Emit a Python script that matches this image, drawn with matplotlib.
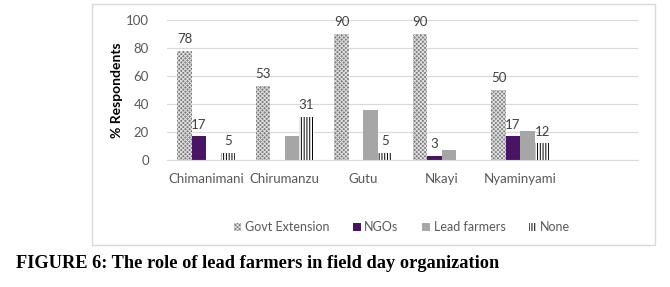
import numpy as np
import matplotlib
matplotlib.use("Agg")
import matplotlib.pyplot as plt
from matplotlib.patches import Rectangle

# Data
districts = ["Chimanimani", "Chirumanzu", "Gutu", "Nkayi", "Nyaminyami"]
govt = [78, 53, 90, 90, 50]
ngos = [17, 0, 0, 3, 17]
lead = [0, 17, 36, 7, 21]
none = [5, 31, 5, 0, 12]
series_names = ["Govt Extension", "NGOs", "Lead farmers", "None"]

plt.rcParams["font.family"] = ["Lato", "DejaVu Sans"]
plt.rcParams["hatch.linewidth"] = 0.7

fig = plt.figure(figsize=(6.7, 2.87), dpi=100)
ax = fig.add_axes([0.2493, 0.4425, 0.7030, 0.4878])

# outer chart frame
fig.patches.append(Rectangle((0.1373, 0.1463), 0.8403, 0.8397, transform=fig.transFigure,
                             fill=False, edgecolor="#d9d9d9", linewidth=1.0))

x = np.arange(len(districts))
w = 0.185
offsets = np.array([-1.5, -0.5, 0.5, 1.5]) * w

b_govt = ax.bar(x + offsets[0], govt, w, facecolor="#7f7f7f", edgecolor="#e0e0e0",
                hatch="xxxxxxxx", linewidth=0, label=series_names[0])
b_ngo = ax.bar(x + offsets[1], ngos, w, color="#4a1466", linewidth=0, label=series_names[1])
b_lead = ax.bar(x + offsets[2], lead, w, color="#a6a6a6", linewidth=0, label=series_names[2])
b_none = ax.bar(x + offsets[3], none, w, facecolor="white", edgecolor="black",
                hatch="||||||", linewidth=0, label=series_names[3])

lab_kw = dict(fontsize=9.5, color="#404040", padding=4)
ax.bar_label(b_govt, labels=[str(v) for v in govt], **lab_kw)
ax.bar_label(b_ngo, labels=[str(v) if v else "" for v in ngos], **lab_kw)
ax.bar_label(b_none, labels=[str(v) if v else "" for v in none], **lab_kw)

ax.set_xlim(-0.5, 5.5)
ax.set_ylim(0, 100)
ax.set_yticks(range(0, 101, 20))
ax.set_xticks(x)
ax.set_xticklabels(districts)
ax.tick_params(axis="both", length=0, labelsize=9.5, labelcolor="#595959")
ax.tick_params(axis="x", pad=9)
ax.tick_params(axis="y", pad=13)
ax.grid(axis="y", color="#d9d9d9", linewidth=0.8)
ax.set_axisbelow(True)
for s in ["top", "right", "left"]:
    ax.spines[s].set_visible(False)
ax.spines["bottom"].set_color("#d9d9d9")

ax.set_ylabel("% Respondents", fontsize=10, fontweight="bold", labelpad=2)

fig.legend(handles=[b_govt, b_ngo, b_lead, b_none], labels=series_names,
           loc="center", bbox_to_anchor=(0.600, 0.209), ncol=4, frameon=False,
           fontsize=9, labelcolor="#595959", handlelength=0.6, handleheight=0.6,
           handletextpad=0.3, columnspacing=1.9)

fig.text(0.024, 0.0836, "FIGURE 6: The role of lead farmers in field day organization",
         family="Liberation Serif", fontweight="bold", fontsize=13.2, va="center")

fig.savefig("out.png", dpi=100)
